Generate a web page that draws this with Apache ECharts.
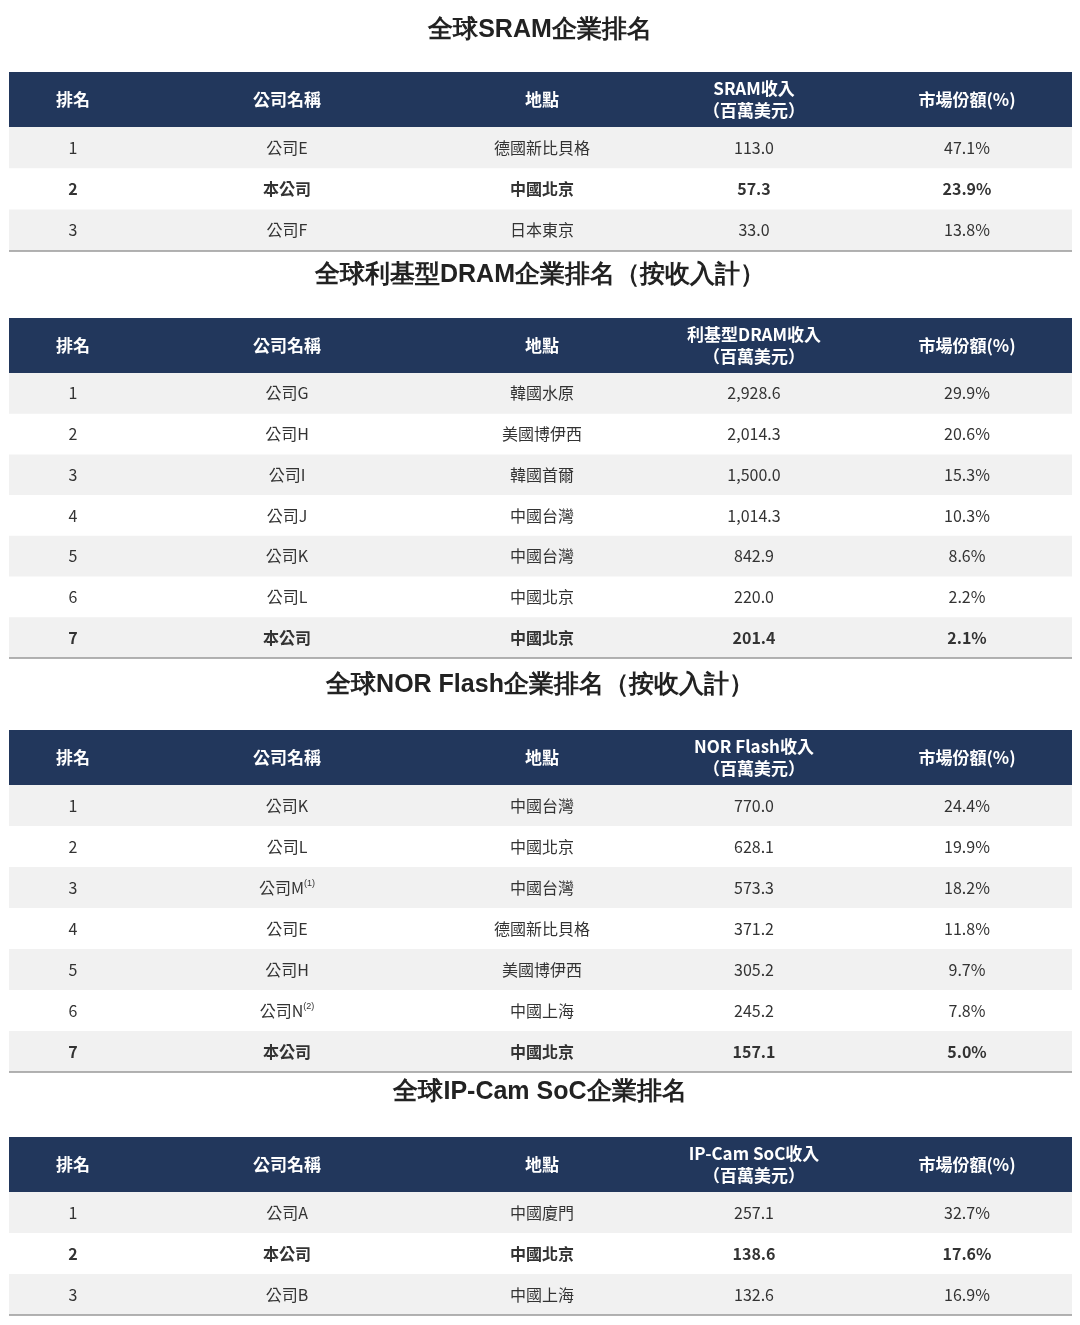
<!DOCTYPE html>
<html><head><meta charset="utf-8">
<script src="https://cdn.jsdelivr.net/npm/echarts@6/dist/echarts.min.js"></script>
<style>html,body{margin:0;background:#fff}#c{width:1080px;height:1325px}</style>
</head><body><div id="c"></div>
<script>
var titles = ['全球SRAM企業排名', '全球利基型DRAM企業排名（按收入計）', '全球NOR Flash企業排名（按收入計）', '全球IP-Cam SoC企業排名'];
var revHeads = ['SRAM收入', '利基型DRAM收入', 'NOR Flash收入', 'IP-Cam SoC收入'];
var sramRows = [
  ['1', '公司E', '德國新比貝格', '113.0', '47.1%'],
  ['2', '本公司', '中國北京', '57.3', '23.9%'],
  ['3', '公司F', '日本東京', '33.0', '13.8%']
];
var dramRows = [
  ['1', '公司G', '韓國水原', '2,928.6', '29.9%'],
  ['2', '公司H', '美國博伊西', '2,014.3', '20.6%'],
  ['3', '公司I', '韓國首爾', '1,500.0', '15.3%'],
  ['4', '公司J', '中國台灣', '1,014.3', '10.3%'],
  ['5', '公司K', '中國台灣', '842.9', '8.6%'],
  ['6', '公司L', '中國北京', '220.0', '2.2%'],
  ['7', '本公司', '中國北京', '201.4', '2.1%']
];
var norRows = [
  ['1', '公司K', '中國台灣', '770.0', '24.4%'],
  ['2', '公司L', '中國北京', '628.1', '19.9%'],
  ['3', '公司M(1)', '中國台灣', '573.3', '18.2%'],
  ['4', '公司E', '德國新比貝格', '371.2', '11.8%'],
  ['5', '公司H', '美國博伊西', '305.2', '9.7%'],
  ['6', '公司N(2)', '中國上海', '245.2', '7.8%'],
  ['7', '本公司', '中國北京', '157.1', '5.0%']
];
var ipcamRows = [
  ['1', '公司A', '中國廈門', '257.1', '32.7%'],
  ['2', '本公司', '中國北京', '138.6', '17.6%'],
  ['3', '公司B', '中國上海', '132.6', '16.9%']
];
var tables = [sramRows, dramRows, norRows, ipcamRows];

// layout
var titleY = [30, 275, 685, 1092];
var headTop = [72, 318, 730, 1137];
var rowH = [41.3, 40.7, 41, 41];
var colX = [73, 287, 542, 754, 967];
var left = 9, width = 1063, headH = 55;
var font = '"Noto Sans CJK TC","Noto Sans",sans-serif';

var g = [];
tables.forEach(function (rows, t) {
  g.push({type: 'text', x: 540, y: titleY[t], style: {text: titles[t], fontSize: 25, fontWeight: 'bold', fill: '#222', font: 'bold 25px ' + font, textAlign: 'center', textVerticalAlign: 'middle'}});
  g.push({type: 'rect', shape: {x: left, y: headTop[t], width: width, height: headH}, style: {fill: '#22375c'}});
  var heads = ['排名', '公司名稱', '地點', revHeads[t] + '\n（百萬美元）', '市場份額(%)'];
  heads.forEach(function (h, i) {
    g.push({type: 'text', x: colX[i], y: headTop[t] + headH / 2, style: {text: h, fill: '#fff', font: 'bold 17px ' + font, textAlign: 'center', textVerticalAlign: 'middle', lineHeight: 22}});
  });
  rows.forEach(function (r, j) {
    var y = headTop[t] + headH + j * rowH[t];
    if (j % 2 === 0) g.push({type: 'rect', shape: {x: left, y: y, width: width, height: rowH[t]}, style: {fill: '#f1f1f1'}});
    var bold = r[1] === '本公司';
    r.forEach(function (v, i) {
      var m = v.match(/^(.*)\((\d)\)$/);
      var st = {fill: '#333', font: (bold ? 'bold ' : '') + '16px ' + font, textAlign: 'center', textVerticalAlign: 'middle'};
      if (m) {
        st.text = '{a|' + m[1] + '}{s|(' + m[2] + ')}';
        st.rich = {a: {fontSize: 16, fill: '#333', fontFamily: font}, s: {fontSize: 9, fill: '#333', verticalAlign: 'top', padding: [0, 0, 6, 0]}};
      } else st.text = v;
      g.push({type: 'text', x: colX[i], y: y + rowH[t] / 2, style: st});
    });
  });
  var bottom = headTop[t] + headH + rows.length * rowH[t];
  g.push({type: 'line', shape: {x1: left, y1: bottom, x2: left + width, y2: bottom}, style: {stroke: '#999', lineWidth: 1.5}});
});

var chart = echarts.init(document.getElementById('c'));
chart.setOption({backgroundColor: '#fff', graphic: g});
</script></body></html>
